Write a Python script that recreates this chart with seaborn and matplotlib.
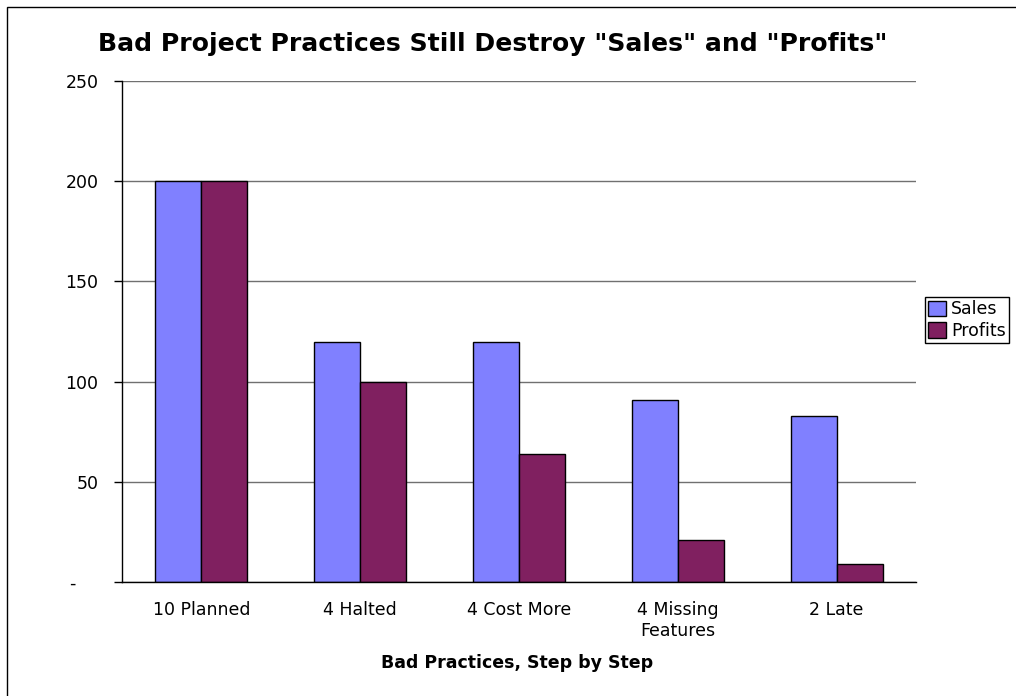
import pandas as pd
import matplotlib.pyplot as plt
import seaborn as sns
from matplotlib.patches import Rectangle

# Data
practices = ["10 Planned", "4 Halted", "4 Cost More", "4 Missing\nFeatures", "2 Late"]
sales = [200, 120, 120, 91, 83]
profits = [200, 100, 64, 21, 9]
series_names = ["Sales", "Profits"]
series_colors = ["#8080FF", "#802060"]
yticks = [0, 50, 100, 150, 200, 250]
ytick_labels = ["-    ", "50", "100", "150", "200", "250"]

df = pd.DataFrame({
    "practice": practices * 2,
    "value": sales + profits,
    "series": [series_names[0]] * len(practices) + [series_names[1]] * len(practices),
})

sns.set_style("white")
plt.rcParams["font.family"] = ["DejaVu Sans"]
plt.rcParams["text.color"] = "black"
plt.rcParams["xtick.color"] = "black"
plt.rcParams["ytick.color"] = "black"
plt.rcParams["axes.labelcolor"] = "black"

W, H = 1016, 696
fig = plt.figure(figsize=(W / 100, H / 100), dpi=100)
ax = fig.add_axes([122 / W, 1 - 582 / H, (916 - 122) / W, (582 - 81) / H])

sns.barplot(
    data=df, x="practice", y="value", hue="series",
    palette=series_colors, saturation=1, width=0.58,
    edgecolor="black", linewidth=1, ax=ax,
)

# axes styling, Excel-like
ax.set_ylim(0, 250)
ax.set_xlim(-0.5, len(practices) - 0.5)
ax.set_yticks(yticks)
ax.set_yticklabels(ytick_labels, fontsize=12.5)
ax.set_xticks(range(len(practices)))
ax.set_xticklabels(practices, fontsize=12.5)
ax.set_xticks([i - 0.5 for i in range(len(practices) + 1)], minor=True)
ax.tick_params(axis="x", which="major", length=0, pad=14)
ax.tick_params(axis="x", which="minor", length=6, width=1, color="black", direction="out")
ax.tick_params(axis="y", length=6, width=1, color="black", direction="out", left=True, pad=11)
ax.yaxis.grid(True, color="#707070", linewidth=1)
ax.set_axisbelow(True)
for side in ["top", "right"]:
    ax.spines[side].set_visible(False)
for side in ["left", "bottom"]:
    ax.spines[side].set_color("black")
    ax.spines[side].set_linewidth(1)

ax.set_ylabel("")
ax.set_xlabel("")
fig.text(517 / W, 1 - 663 / H, "Bad Practices, Step by Step",
         ha="center", va="center", fontsize=12.5, fontweight="bold")
fig.text(493 / W, 1 - 44 / H, 'Bad Project Practices Still Destroy "Sales" and "Profits"',
         ha="center", va="center", fontsize=18.1, fontweight="bold")

# legend at right edge
handles, labels = ax.get_legend_handles_labels()
ax.get_legend().remove()
fig.legend(handles, labels, loc="center left", bbox_to_anchor=(925 / W, 1 - 320 / H),
           fontsize=12.5, frameon=True, fancybox=False, edgecolor="black",
           framealpha=1, handlelength=1.0, handleheight=1.0, handletextpad=0.3,
           borderpad=0.2, labelspacing=0.2, borderaxespad=0)

# chart-area border (cropped at right/bottom in the reference)
fig.patches.append(Rectangle((7 / W, -0.1), 1.2, 1 - 7 / H + 0.1, transform=fig.transFigure,
                             fill=False, edgecolor="black", linewidth=1))

fig.savefig("out.png", dpi=100)
